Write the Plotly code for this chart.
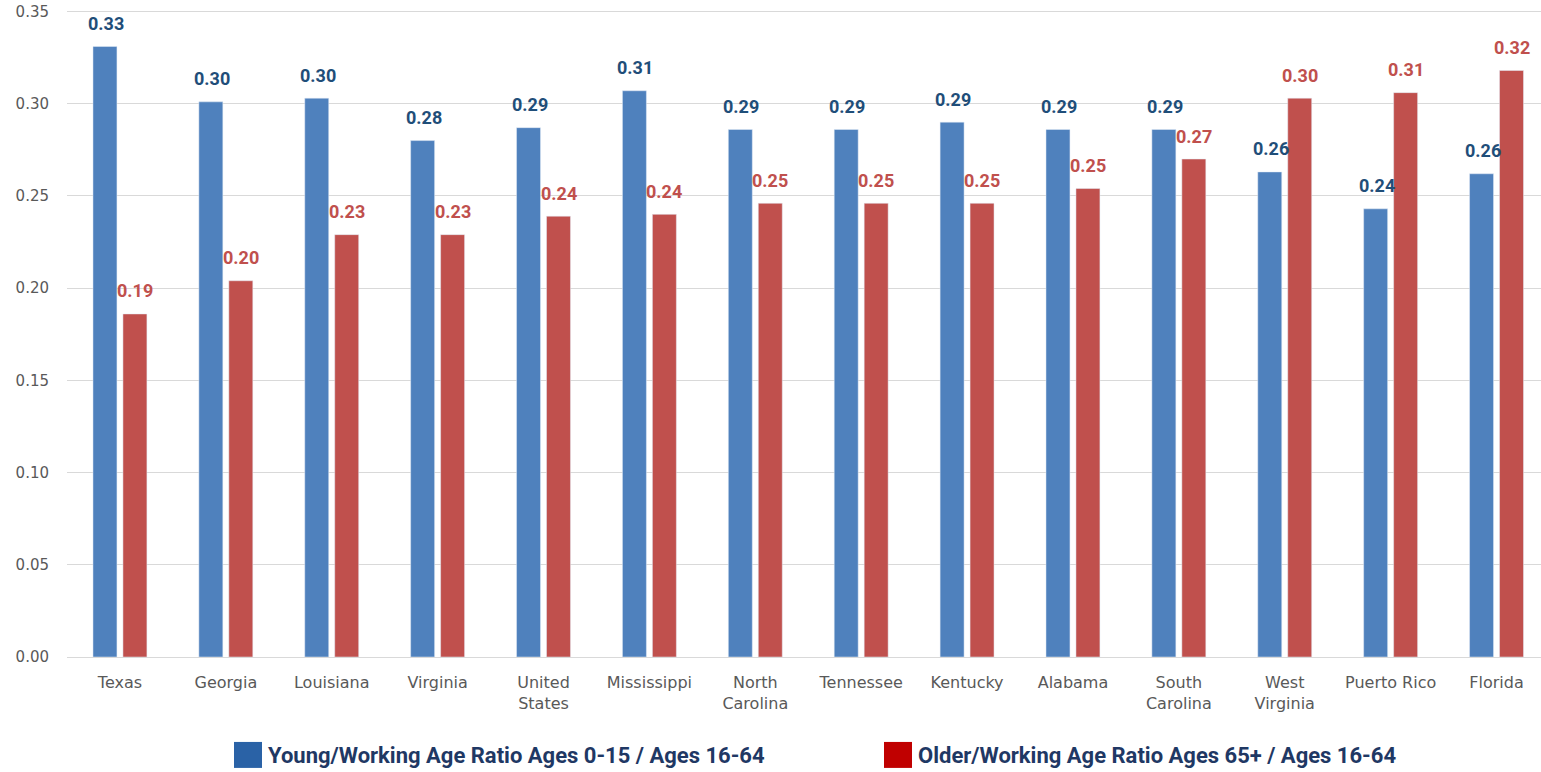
import plotly.graph_objects as go

categories = ["Texas", "Georgia", "Louisiana", "Virginia", "United<br>States", "Mississippi",
              "North<br>Carolina", "Tennessee", "Kentucky", "Alabama", "South<br>Carolina",
              "West<br>Virginia", "Puerto Rico", "Florida"]
young_ratio = [0.331, 0.301, 0.303, 0.280, 0.287, 0.307, 0.286, 0.286, 0.290, 0.286, 0.286, 0.263, 0.243, 0.262]
older_ratio = [0.186, 0.204, 0.229, 0.229, 0.239, 0.240, 0.246, 0.246, 0.246, 0.254, 0.270, 0.303, 0.306, 0.318]
y_ticks = [0.0, 0.05, 0.10, 0.15, 0.20, 0.25, 0.30, 0.35]
series_names = ["Young/Working Age Ratio Ages 0-15 / Ages 16-64",
                "Older/Working Age Ratio Ages 65+ / Ages 16-64"]

BLUE = "#4F81BD"
RED = "#C0504D"
BLUE_LBL = "#1F4E79"
RED_LBL = "#C0504D"
NAVY = "#1F3864"
LBL_FONT = "Roboto"

W, H = 1541, 772
Y_TOP = 0.3508
px_per_unit = 646 / 0.35
extra = (Y_TOP - 0.35) * px_per_unit
L, T, B = 67, 11 - extra, 115
PW = 1541 - 67
PH = 646 + extra

fig = go.Figure()
fig.add_trace(go.Bar(x=categories, y=young_ratio, name=series_names[0], marker_color=BLUE,
                     showlegend=False))
fig.add_trace(go.Bar(x=categories, y=older_ratio, name=series_names[1], marker_color=RED,
                     showlegend=False))

annotations = []
for i, c in enumerate(categories):
    annotations.append(dict(x=c, y=young_ratio[i], xref="x", yref="y", text=f"{young_ratio[i]:.2f}",
                            showarrow=False, xshift=-14, yshift=23,
                            font=dict(family=LBL_FONT, size=18, color=BLUE_LBL, weight="bold")))
    annotations.append(dict(x=c, y=older_ratio[i], xref="x", yref="y", text=f"{older_ratio[i]:.2f}",
                            showarrow=False, xshift=15, yshift=23,
                            font=dict(family=LBL_FONT, size=18, color=RED_LBL, weight="bold")))

# custom legend
legend_items = [(234, "#2A62A6", series_names[0]), (884, "#C00000", series_names[1])]
shapes = []
for x0, col, name in legend_items:
    shapes.append(dict(type="rect", xref="paper", yref="paper",
                       x0=(x0 - 67) / PW, x1=(x0 + 28 - 67) / PW,
                       y0=-(768 - 657) / PH, y1=-(742 - 657) / PH,
                       fillcolor=col, line=dict(width=0)))
    annotations.append(dict(x=(x0 + 32 - 67) / PW, y=-(756 - 657) / PH, xref="paper", yref="paper",
                            xanchor="left", yanchor="middle", showarrow=False, text=name,
                            font=dict(family=LBL_FONT, size=22, color=NAVY, weight="bold")))

fig.update_layout(
    width=W, height=H,
    barmode="group", bargap=0.434, bargroupgap=0.2,
    margin=dict(l=L, r=0, t=T, b=B, pad=0),
    plot_bgcolor="white", paper_bgcolor="white",
    xaxis=dict(range=[-0.5, 13.42], showgrid=False, showline=True, linecolor="#D9D9D9",
               tickfont=dict(family="DejaVu Sans", size=16, color="#595959"), ticks="",
               ticklabelstandoff=11),
    yaxis=dict(range=[0, Y_TOP], tickvals=y_ticks, tickformat=".2f", showgrid=True,
               gridcolor="#D9D9D9", zeroline=False, showline=False,
               tickfont=dict(family="DejaVu Sans", size=15, color="#595959"), ticks="",
               ticklabelstandoff=17),
    annotations=annotations, shapes=shapes,
)
fig.write_html("out.html", config={"displayModeBar": False},
               post_script="document.body.style.margin='0';")
